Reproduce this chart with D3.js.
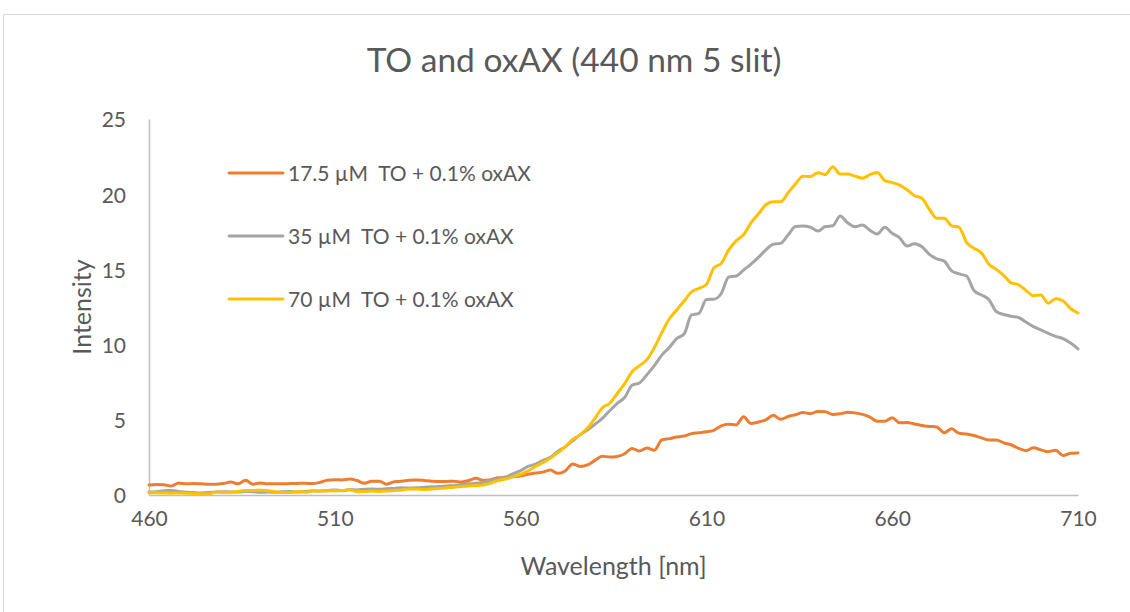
<!DOCTYPE html>
<html>
<head>
<meta charset="utf-8">
<script src="https://cdn.jsdelivr.net/npm/d3@7"></script>
<style>
  html, body { margin: 0; padding: 0; background: #fff; }
  svg { display: block; font-family: Lato, "Open Sans", sans-serif; }
  text { white-space: pre; }
</style>
</head>
<body>
<svg id="chart" width="1130" height="612"></svg>
<script>
// Emission spectra, sampled every 2 nm from 460 to 710 nm
const wavelengths = d3.range(460, 711, 2);

const seriesNames = [
  "17.5 \u00b5M  TO + 0.1% oxAX",
  "35 \u00b5M  TO + 0.1% oxAX",
  "70 \u00b5M  TO + 0.1% oxAX"
];

const to17 = [
  0.66, 0.70, 0.68, 0.60, 0.80, 0.74, 0.76, 0.74, 0.72, 0.71,
  0.76, 0.86, 0.74, 0.98, 0.72, 0.80, 0.74, 0.75, 0.75, 0.76,
  0.77, 0.78, 0.76, 0.84, 0.98, 1.02, 1.00, 1.06, 0.96, 0.78,
  0.92, 0.92, 0.72, 0.88, 0.91, 0.98, 1.00, 0.97, 0.92, 0.89,
  0.90, 0.92, 0.86, 0.96, 1.11, 0.98, 1.02, 1.15, 1.18, 1.22,
  1.26, 1.38, 1.46, 1.52, 1.66, 1.44, 1.60, 2.06, 1.90, 2.00,
  2.30, 2.58, 2.52, 2.56, 2.74, 3.10, 2.92, 3.12, 2.98, 3.66,
  3.75, 3.85, 3.92, 4.08, 4.14, 4.20, 4.30, 4.60, 4.70, 4.66,
  5.21, 4.75, 4.85, 5.00, 5.30, 5.03, 5.22, 5.34, 5.48, 5.41,
  5.56, 5.54, 5.36, 5.40, 5.50, 5.46, 5.36, 5.18, 4.90, 4.90,
  5.14, 4.80, 4.82, 4.72, 4.62, 4.56, 4.52, 4.14, 4.40, 4.10,
  4.06, 3.96, 3.80, 3.66, 3.66, 3.47, 3.34, 3.10, 2.95, 3.14,
  3.00, 2.88, 2.98, 2.62, 2.78, 2.80
];

const to35 = [
  0.20, 0.22, 0.28, 0.30, 0.24, 0.18, 0.16, 0.14, 0.16, 0.20,
  0.22, 0.20, 0.20, 0.24, 0.22, 0.18, 0.20, 0.18, 0.22, 0.24,
  0.20, 0.24, 0.28, 0.26, 0.30, 0.34, 0.28, 0.36, 0.34, 0.38,
  0.40, 0.38, 0.42, 0.44, 0.48, 0.46, 0.48, 0.52, 0.55, 0.56,
  0.60, 0.62, 0.70, 0.74, 0.78, 0.84, 0.98, 1.06, 1.20, 1.42,
  1.62, 1.90, 2.06, 2.30, 2.50, 2.90, 3.20, 3.60, 4.00, 4.32,
  4.70, 5.10, 5.60, 6.10, 6.48, 7.30, 7.45, 8.00, 8.60, 9.30,
  9.80, 10.40, 10.70, 11.97, 12.08, 13.00, 13.02, 13.40, 14.50, 14.56,
  14.95, 15.35, 15.80, 16.30, 16.67, 16.73, 17.30, 17.85, 17.88, 17.80,
  17.55, 17.85, 17.90, 18.55, 18.10, 17.84, 17.95, 17.60, 17.35, 17.80,
  17.40, 17.10, 16.55, 16.70, 16.50, 16.00, 15.70, 15.55, 14.90, 14.70,
  14.56, 13.60, 13.30, 13.00, 12.20, 12.00, 11.88, 11.80, 11.50, 11.19,
  10.98, 10.75, 10.55, 10.40, 10.10, 9.72
];

const to70 = [
  0.15, 0.15, 0.14, 0.12, 0.14, 0.12, 0.10, 0.08, 0.06, 0.20,
  0.16, 0.18, 0.24, 0.30, 0.30, 0.32, 0.28, 0.22, 0.16, 0.16,
  0.24, 0.18, 0.26, 0.27, 0.27, 0.28, 0.30, 0.35, 0.24, 0.24,
  0.26, 0.24, 0.26, 0.30, 0.34, 0.40, 0.40, 0.36, 0.40, 0.44,
  0.46, 0.52, 0.56, 0.60, 0.62, 0.66, 0.80, 0.96, 1.06, 1.22,
  1.38, 1.60, 1.90, 2.15, 2.45, 2.80, 3.20, 3.70, 4.00, 4.45,
  5.10, 5.80, 6.10, 6.75, 7.40, 8.20, 8.60, 9.00, 9.80, 10.80,
  11.70, 12.30, 12.90, 13.50, 13.74, 14.00, 15.10, 15.40, 16.30, 16.90,
  17.30, 18.10, 18.70, 19.30, 19.50, 19.50, 20.10, 20.70, 21.20, 21.17,
  21.43, 21.30, 21.83, 21.34, 21.34, 21.20, 21.06, 21.30, 21.45, 20.90,
  20.77, 20.61, 20.30, 19.90, 19.73, 19.00, 18.40, 18.40, 17.89, 17.80,
  16.80, 16.40, 16.10, 15.35, 15.00, 14.60, 14.10, 13.98, 13.60, 13.25,
  13.30, 12.75, 13.05, 12.90, 12.40, 12.10
];

const seriesColors = ["#ED7D31", "#A5A5A5", "#FFC000"];
const xTicks = [460, 510, 560, 610, 660, 710];
const yTicks = [0, 5, 10, 15, 20, 25];

const titleText = "TO and oxAX (440 nm 5 slit)";
const xTitle = "Wavelength [nm]";
const yTitle = "Intensity";

const svg = d3.select("#chart");
const textColor = "#595959";
const labelFont = "Lato, 'Open Sans', sans-serif";

// Outer chart frame
svg.append("rect")
  .attr("x", 3.5).attr("y", 14.5)
  .attr("width", 1150).attr("height", 640)
  .attr("fill", "#fff")
  .attr("stroke", "#d9d9d9")
  .attr("stroke-width", 1);

const plot = { left: 149, right: 1078, top: 119, bottom: 495 };

const x = d3.scaleLinear().domain([460, 710]).range([plot.left, plot.right]);
const y = d3.scaleLinear().domain([0, 25]).range([plot.bottom, plot.top]);

// Title
svg.append("text")
  .attr("x", 574).attr("y", 72)
  .attr("text-anchor", "middle")
  .attr("fill", textColor)
  .attr("font-size", 33.5)
  .text(titleText);

// Y axis (line only, labels to the left)
const yAxis = d3.axisLeft(y).tickValues(yTicks).tickSize(0).tickPadding(23);
const gy = svg.append("g").attr("transform", `translate(${plot.left},0)`).call(yAxis);
gy.select(".domain").attr("stroke", "#bfbfbf").attr("stroke-width", 1.5);
gy.selectAll("text").attr("fill", textColor).attr("font-size", 21)
  .attr("font-family", labelFont).attr("dy", "0.38em");

// X axis
const xAxis = d3.axisBottom(x).tickValues(xTicks).tickSize(0).tickPadding(25)
  .tickFormat(d3.format("d"));
const gx = svg.append("g").attr("transform", `translate(0,${plot.bottom})`).call(xAxis);
gx.select(".domain").attr("stroke", "#bfbfbf").attr("stroke-width", 1.5);
gx.selectAll("text").attr("fill", textColor).attr("font-size", 21)
  .attr("font-family", labelFont).attr("dy", "0.3em");

// Axis titles
svg.append("text")
  .attr("x", (plot.left + plot.right) / 2).attr("y", 575)
  .attr("text-anchor", "middle")
  .attr("fill", textColor).attr("font-size", 25)
  .text(xTitle);

svg.append("text")
  .attr("transform", `translate(91,${(plot.top + plot.bottom) / 2}) rotate(-90)`)
  .attr("text-anchor", "middle")
  .attr("fill", textColor).attr("font-size", 25)
  .text(yTitle);

// Spectra
const seriesValues = [to17, to35, to70];
const line = d3.line()
  .x(d => x(d[0]))
  .y(d => y(d[1]))
  .curve(d3.curveMonotoneX);

seriesValues.forEach((vals, i) => {
  const pts = wavelengths.map((w, j) => [w, vals[j]]);
  svg.append("path")
    .datum(pts)
    .attr("fill", "none")
    .attr("stroke", seriesColors[i])
    .attr("stroke-width", 3)
    .attr("stroke-linejoin", "round")
    .attr("stroke-linecap", "round")
    .attr("d", line);
});

// Legend
const legendY = [173, 236, 299];
seriesNames.forEach((name, i) => {
  const g = svg.append("g").attr("transform", `translate(229,${legendY[i]})`);
  g.append("line")
    .attr("x1", 0).attr("x2", 54)
    .attr("stroke", seriesColors[i])
    .attr("stroke-width", 3)
    .attr("stroke-linecap", "round");
  g.append("text")
    .attr("x", 59).attr("y", 0).attr("dy", "0.36em")
    .attr("fill", textColor).attr("font-size", 21)
    .text(name);
});
</script>
</body>
</html>
